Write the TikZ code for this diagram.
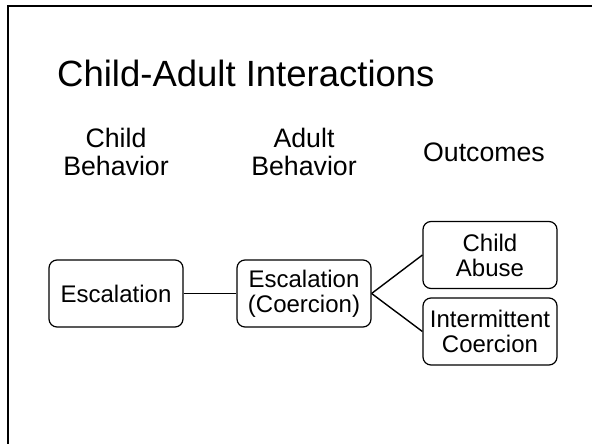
\documentclass[tikz,border=0pt]{standalone}
\usepackage{fontspec}
\setmainfont{Liberation Sans}
\begin{document}
\begin{tikzpicture}[x=1pt,y=-1pt,
  titletext/.style={inner sep=0pt,anchor=base west,font=\fontsize{36.5}{40}\selectfont},
  headtext/.style={inner sep=0pt,anchor=base,font=\fontsize{26.7}{28}\selectfont},
  stagebox/.style={draw,line width=1.2pt,rounded corners=8pt,minimum width=134pt,
    minimum height=67pt,inner sep=0pt,align=center,font=\fontsize{24}{25}\selectfont},
  link/.style={line width=1.4pt}]
  \useasboundingbox (0,0) rectangle (592,444);
  % slide frame
  \draw[line width=2.5pt] (8,444) -- (8,6) -- (592,6);
  % title
  \node[titletext] (title) at (57,86) {Child-Adult Interactions};
  % column headings
  \node[headtext] (hchild) at (116,147) {\begin{tabular}[t]{@{}c@{}}Child\\Behavior\end{tabular}};
  \node[headtext] (hadult) at (304,147) {\begin{tabular}[t]{@{}c@{}}Adult\\Behavior\end{tabular}};
  \node[headtext] (hout) at (484,161) {Outcomes};
  % boxes
  \node[stagebox] (esc) at (116,293.5) {Escalation};
  \node[stagebox] (coer) at (304,293.5) {Escalation\\(Coercion)};
  \node[stagebox] (abuse) at (490,255) {Child\\Abuse};
  \node[stagebox] (inter) at (490,331.5) {Intermittent\\Coercion};
  % connectors
  \draw[link] (esc.east) -- (coer.west);
  \draw[link] (coer.east) -- (abuse.west);
  \draw[link] (coer.east) -- (inter.west);
\end{tikzpicture}
\end{document}
